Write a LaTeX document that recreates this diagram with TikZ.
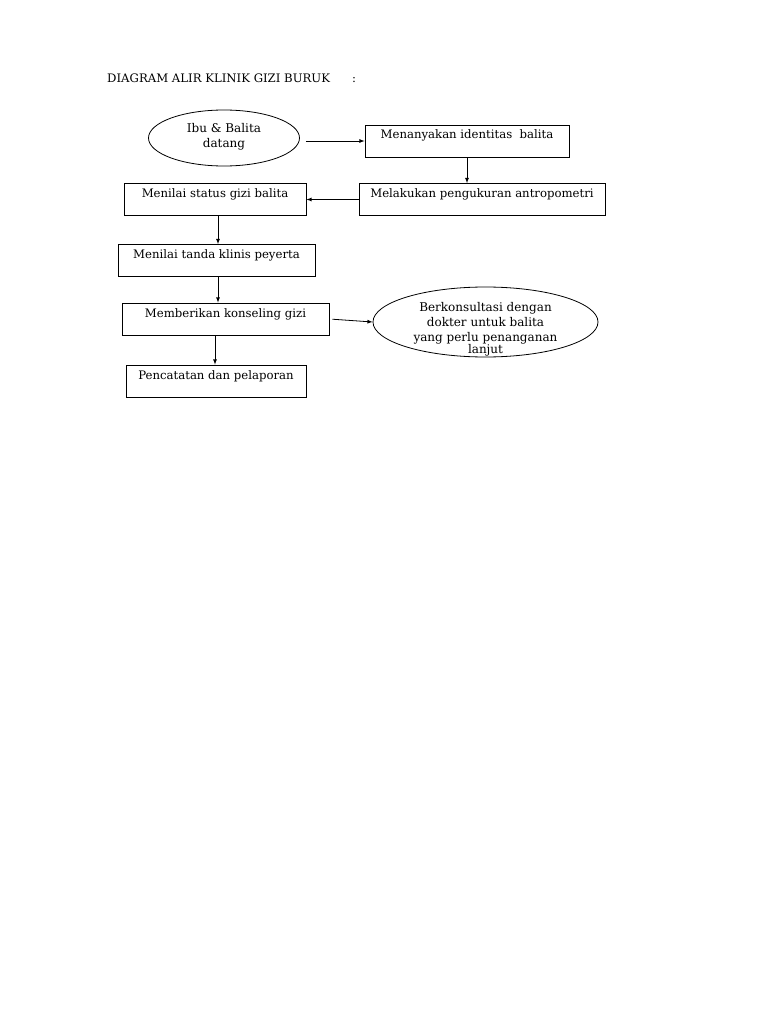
\documentclass[tikz,border=0pt]{standalone}
\usepackage{fontspec}
\setmainfont{DejaVu Serif}
\usepackage{tikz}
\usetikzlibrary{positioning, arrows, shapes.geometric}
\tikzset{
    x=1pt, y=-1pt, % one unit is one pixel of the page, y runs down
    >=latex, % small filled arrow heads
    box/.style={draw, rectangle, line width=0.8pt, inner xsep=2pt, inner ysep=2pt, text height=12pt, text depth=16pt, font=\fontsize{11.7}{14}\selectfont}, % text sits near the top
    oval/.style={draw, ellipse, line width=0.8pt, inner sep=0pt, align=center, font=\fontsize{12}{15}\selectfont},
    flow/.style={->, line width=0.8pt},
    }

\begin{document}
\begin{tikzpicture}
\useasboundingbox[fill=white] (0,0) rectangle (768,1024);
\node[anchor=base west, inner sep=0pt, font=\fontsize{11.7}{14}\selectfont] (title) at (107,83) {DIAGRAM ALIR KLINIK GIZI BURUK};
\node[anchor=base west, inner sep=0pt, font=\fontsize{11.7}{14}\selectfont] (colon) at (352,83) {:};

\node[oval, minimum width=151, minimum height=56] (ibu) at (224,138) {Ibu \& Balita\\datang\\[-10pt]};
\node[box, minimum width=204] (tanya) at (467,141) {Menanyakan identitas\ \ balita};
\node[box, minimum width=246] (ukur) at (482,199.5) {Melakukan pengukuran antropometri};
\node[box, minimum width=182] (status) at (215,199.5) {Menilai status gizi balita};
\node[box, minimum width=197, below of=status, node distance=61, xshift=1.5] (tanda) {Menilai tanda klinis peyerta};
\node[box, minimum width=207, below of=tanda, node distance=58.5, xshift=9] (konseling) {Memberikan konseling gizi};
\node[box, minimum width=180, below of=konseling, node distance=62, xshift=-9.5] (catat) {Pencatatan dan pelaporan};
\node[oval, minimum width=225, minimum height=70] (konsul) at (485.5,322) {};
% the text runs over the bottom of the oval, as in the original
\node[align=center, inner sep=0pt, font=\fontsize{12}{15}\selectfont] (konsultext) at ([yshift=-7pt]konsul.center) {Berkonsultasi dengan\\dokter untuk balita\\yang perlu penanganan\\[-3pt]lanjut};

\draw[flow, shorten <=6pt] (tanya.west -| ibu.east) -- (tanya.west);
\draw[flow] (tanya.south) -- (tanya.south |- ukur.north);
\draw[flow] (ukur.west) -- (status.east);
\draw[flow] ([xshift=3]status.south) -- ([xshift=3]status.south |- tanda.north);
\draw[flow] ([xshift=1.5]tanda.south) -- ([xshift=1.5]tanda.south |- konseling.north);
\draw[flow, shorten <=3pt] (konseling.east) -- (konsul.west);
\draw[flow] ([xshift=-1]catat.north |- konseling.south) -- ([xshift=-1]catat.north);
\end{tikzpicture}
\end{document}
